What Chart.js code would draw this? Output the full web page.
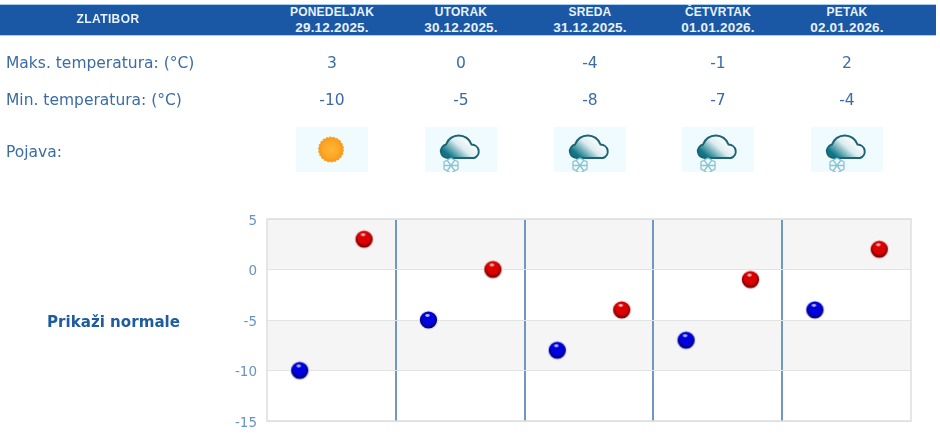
<!DOCTYPE html>
<html>
<head>
<meta charset="utf-8">
<script src="https://cdn.jsdelivr.net/npm/chart.js@4/dist/chart.umd.min.js"></script>
<style>
body { margin: 0; background: #fff; overflow: hidden; font-family: "DejaVu Sans", sans-serif; color: #3b6ca5; }
#page { position: relative; width: 940px; height: 448px; }
#head { position: absolute; left: 0; top: 4px; width: 936px; height: 30px; background: #1a58a5; border-top: 1px solid #a9cdf0; border-bottom: 1px solid #a9cdf0; }
.h { position: absolute; color: #e9f1fb; font: bold 12px/15px "Liberation Sans", sans-serif; text-align: center; width: 130px; letter-spacing: 0.2px; }
.h span { font-size: 13.5px; }
.t { position: absolute; white-space: nowrap; font-size: 15.5px; line-height: 18px; }
.v { position: absolute; width: 80px; text-align: center; font-size: 15.5px; line-height: 18px; }
.ico { position: absolute; top: 127px; width: 72px; height: 45px; background: #effbff; overflow: hidden; }
canvas { position: absolute; left: 0; top: 0; }
</style>
</head>
<body>
<div id="page">
  <canvas id="chart" width="940" height="448"></canvas>
  <div id="head"></div>
  <div class="h" style="left:43px;top:12px;letter-spacing:0.4px">ZLATIBOR</div>
  <div class="t" style="left:6px;top:54px">Maks. temperatura: (°C)</div>
  <div class="t" style="left:6px;top:91px">Min. temperatura: (°C)</div>
  <div class="t" style="left:6px;top:143px">Pojava:</div>
  <div class="t" style="left:47px;top:313px;font-weight:bold;font-size:15.1px;color:#1f5c9e">Prikaži normale</div>
</div>
<script>
const days = ["PONEDELJAK", "UTORAK", "SREDA", "ČETVRTAK", "PETAK"];
const dates = ["29.12.2025.", "30.12.2025.", "31.12.2025.", "01.01.2026.", "02.01.2026."];
const maxTemps = [3, 0, -4, -1, 2];
const minTemps = [-10, -5, -8, -7, -4];
const icons = ["sun", "snow", "snow", "snow", "snow"];
const yTicks = [5, 0, -5, -10, -15];
const columns = [332, 461, 590, 718, 847];

const page = document.getElementById("page");

function sunIcon() {
  return `<svg width="72" height="45"><defs><radialGradient id="sg">
    <stop offset="0" stop-color="#ffb534"/><stop offset="0.75" stop-color="#ffa526"/><stop offset="1" stop-color="#f39a1e"/></radialGradient></defs>
    <circle cx="35" cy="22.5" r="12.3" fill="#f7a429" stroke="#f7a429" stroke-width="1.4" stroke-dasharray="2 1.5"/>
    <circle cx="35" cy="22.5" r="11.5" fill="url(#sg)"/></svg>`;
}

function snowIcon(i) {
  return `<svg width="72" height="45"><defs><linearGradient id="cg${i}" x1="0.05" y1="0.85" x2="0.85" y2="0.3">
    <stop offset="0.12" stop-color="#0f7688"/><stop offset="0.6" stop-color="#dcecef"/><stop offset="1" stop-color="#ffffff"/></linearGradient></defs>
    <path d="M23 31 A8 7 0 0 1 21 17.5 A13.5 13.5 0 0 1 46.5 17.5 A7.5 7 0 0 1 49 31 Z" fill="url(#cg${i})" stroke="#1c6475" stroke-width="2"/>
    <g fill="none" stroke="#8cc4d2" stroke-width="1.3">
      <path d="M26 31 L33 35 L33 42 L26 46 L19 42 L19 35 Z"/>
      <path d="M19 38.5H33M22 33L30 44M30 33L22 44"/>
    </g></svg>`;
}

columns.forEach((x, i) => {
  const h = document.createElement("div");
  h.className = "h";
  h.style.left = (x - 65) + "px";
  h.style.top = "5px";
  h.innerHTML = days[i] + "<br><span>" + dates[i] + "</span>";
  page.appendChild(h);

  [[maxTemps, 54], [minTemps, 91]].forEach(([vals, top]) => {
    const v = document.createElement("div");
    v.className = "v";
    v.style.left = (x - 40) + "px";
    v.style.top = top + "px";
    v.textContent = vals[i];
    page.appendChild(v);
  });

  const ic = document.createElement("div");
  ic.className = "ico";
  ic.style.left = (x - 36) + "px";
  ic.innerHTML = icons[i] == "sun" ? sunIcon() : snowIcon(i);
  page.appendChild(ic);
});

// glossy ball used as point marker
function ball(mid, dark, glow) {
  const c = document.createElement("canvas");
  c.width = 22; c.height = 22;
  const g = c.getContext("2d");
  g.fillStyle = glow;
  g.beginPath(); g.arc(11.5, 11, 9.6, 0, Math.PI * 2); g.fill();
  const body = g.createRadialGradient(11, 9, 1, 11.5, 10, 9);
  body.addColorStop(0, mid);
  body.addColorStop(0.6, mid);
  body.addColorStop(1, dark);
  g.fillStyle = body;
  g.beginPath(); g.arc(11.5, 11, 8.6, 0, Math.PI * 2); g.fill();
  g.fillStyle = "rgba(255,255,255,0.7)";
  g.beginPath(); g.ellipse(10.5, 6.5, 2.2, 1.4, 0, 0, Math.PI * 2); g.fill();
  return c;
}

// two slots per day: min on the left, max on the right
const slots = days.flatMap(d => [d + " min", d + " max"]);
const minSeries = minTemps.flatMap(v => [v, null]);
const maxSeries = maxTemps.flatMap(v => [null, v]);

const bands = {
  id: "bands",
  beforeDraw(chart) {
    const { ctx, chartArea, scales } = chart;
    ctx.save();
    ctx.fillStyle = "#f5f5f5";
    [[5, 0], [-5, -10]].forEach(([a, b]) => {
      const y1 = scales.y.getPixelForValue(a), y2 = scales.y.getPixelForValue(b);
      ctx.fillRect(chartArea.left, y1, chartArea.width, y2 - y1);
    });
    ctx.restore();
  },
  beforeDatasetsDraw(chart) {
    const { ctx, chartArea } = chart;
    ctx.save();
    ctx.strokeStyle = "#dedede";
    ctx.lineWidth = 1.5;
    ctx.strokeRect(chartArea.left, chartArea.top, chartArea.width, chartArea.height);
    ctx.restore();
  }
};

new Chart(document.getElementById("chart"), {
  type: "line",
  plugins: [bands],
  data: {
    labels: slots,
    datasets: [
      { label: "Min", data: minSeries, showLine: false, pointStyle: ball("#0000e0", "#00006e", "#d8d8fa"), pointRadius: 11 },
      { label: "Maks", data: maxSeries, showLine: false, pointStyle: ball("#dd0000", "#6e0000", "#fad8d8"), pointRadius: 11 }
    ]
  },
  options: {
    responsive: false,
    animation: false,
    layout: { padding: { left: 217, right: 29, top: 219, bottom: 27 } },
    plugins: { legend: { display: false }, tooltip: { enabled: false } },
    scales: {
      x: {
        offset: true,
        afterFit(axis) { axis.height = 0; },
        ticks: { display: false },
        border: { display: false },
        grid: {
          offset: true,
          drawTicks: false,
          lineWidth: ctx => ([2, 4, 6, 8].includes(ctx.index) ? 2 : 0),
          color: "#6f97c3"
        }
      },
      y: {
        min: -15,
        max: 5,
        afterFit(axis) { axis.width = 50; },
        afterBuildTicks(axis) { axis.ticks = yTicks.map(v => ({ value: v })); },
        border: { display: false },
        grid: { drawTicks: false, color: "#e3e3e3", lineWidth: 1 },
        ticks: { padding: 10, labelOffset: 2, color: "#6a93c2", font: { family: "DejaVu Sans", size: 13.5 } }
      }
    }
  }
});
</script>
</body>
</html>
